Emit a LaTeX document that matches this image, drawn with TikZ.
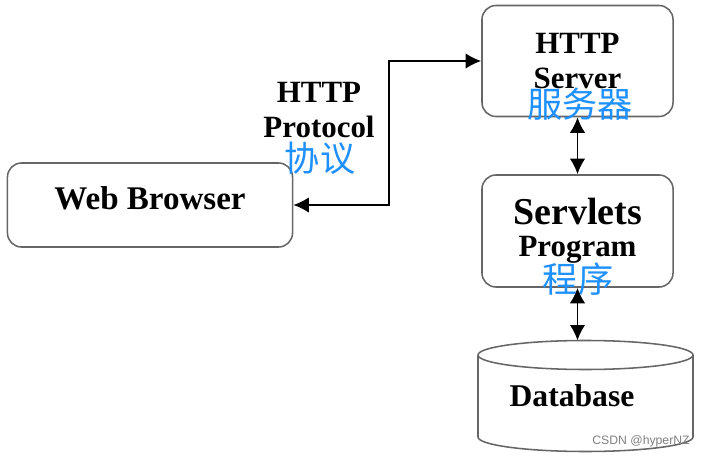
\documentclass[tikz,border=0pt]{standalone}
\usepackage{fontspec}
\setmainfont{Liberation Serif}
\newfontfamily\cjk{Noto Sans CJK SC}
\newfontfamily\wmark{Liberation Sans}
\usetikzlibrary{arrows.meta}
\definecolor{cnblue}{RGB}{30,144,255}

\tikzset{
  box/.style = {draw = black!60, line width = 1.1pt, rounded corners = 10pt, align = center,
                font = \bfseries\fontsize{22}{25}\selectfont},
  link/.style = {{Latex[length = 11pt, width = 11pt]}-{Latex[length = 11pt, width = 11pt]}, line width = 1.4pt},
  cn/.style = {text = cnblue, font = \cjk\fontsize{25}{25}\selectfont, inner sep = 0pt}
}

\begin{document}
\begin{tikzpicture}[x = 0.025cm, y = -0.025cm]
\useasboundingbox (0,0) rectangle (703,459);
% boxes
\node[box, minimum width = 7.125cm, minimum height = 2.1cm, text depth = 10pt,
      font = \bfseries\fontsize{23.5}{25}\selectfont] (browser) at (150,205) {Web Browser};
\node[box, minimum width = 4.775cm, minimum height = 2.775cm] (server) at (577.5,61) {HTTP\\Server};
\node[box, minimum width = 4.775cm, minimum height = 2.8cm] (servlets) at (577.5,231)
  {{\fontsize{27}{27}\selectfont Servlets}\\[-2pt]Program};
% database
\draw[draw = black!60, line width = 1.1pt] (478,355) -- (478,437) arc[start angle = 180, end angle = 0, x radius = 107.5, y radius = 14.5] -- (693,355);
\draw[draw = black!60, line width = 1.1pt] (585.5,355) ellipse [x radius = 107.5, y radius = 14.5];
\node[font = \bfseries\fontsize{22.5}{25}\selectfont] (db) at (572,396) {Database};
\coordinate (dbtop) at (577.5,340.5);
% labels
\node[align = center, font = \bfseries\fontsize{22}{25}\selectfont] (proto) at (319,110) {HTTP\\Protocol};
\node[cn] (xieyi) at (320,158) {协议};
\node[cn] (fuwuqi) at (580,104) {服务器};
\node[cn] (chengxu) at (578,279) {程序};
\node[text = black!50, font = \wmark\fontsize{8.7}{9}\selectfont] (mark) at (641,441) {CSDN @hyperNZ};
% connectors
\draw[link] (browser.east) -- ++(96,0) |- (server.west);
\draw[link] (server.south) -- (servlets.north);
\draw[link] (servlets.south) -- (dbtop);
\end{tikzpicture}
\end{document}
